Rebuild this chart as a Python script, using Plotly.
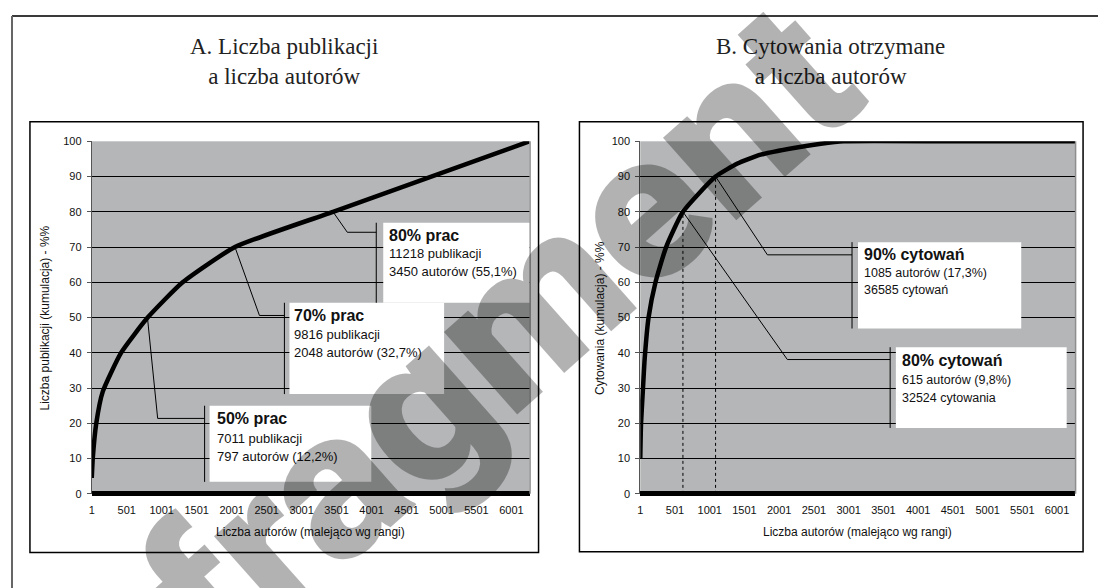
import plotly.graph_objects as go

# page has an 8px body margin, so the figure is drawn 8px in from the top-left
OFF = 8
W, H = 1106 - OFF, 588 - OFF

# ---------------- data ----------------
authors_pub = [1, 15, 65, 158, 419, 800, 1300, 2048, 3450, 6260]
pub_pct = [4.5, 10, 20, 29, 40, 50, 60, 70, 80, 100]

authors_cit = [1, 12, 40, 65, 120, 220, 373, 615, 1085, 1400, 1735, 2212, 2600, 2929, 4500, 6260]
cit_pct = [10, 20, 30, 38.5, 50, 60, 70, 80, 90, 93.7, 96.2, 98.1, 99.3, 100, 100, 100]

x_ticks = [1, 501, 1001, 1501, 2001, 2501, 3001, 3501, 4001, 4501, 5001, 5501, 6001]
y_ticks = [0, 10, 20, 30, 40, 50, 60, 70, 80, 90, 100]
x_max = 6260

title_a = "A. Liczba publikacji<br>a liczba autorów"
title_b = "B. Cytowania otrzymane<br>a liczba autorów"
x_title = "Liczba autorów (malejąco wg rangi)"
y_title_a = "Liczba publikacji (kumulacja) - %%"
y_title_b = "Cytowania (kumulacja) - %%"
watermark = "fragment"

callout_heads_a = ["80% prac", "70% prac", "50% prac"]
callout_l1_a = ["11218 publikacji", "9816 publikacji", "7011 publikacji"]
callout_l2_a = ["3450 autorów (55,1%)", "2048 autorów (32,7%)", "797 autorów (12,2%)"]
callout_px_a = [3450, 2048, 797]
callout_py_a = [80, 70, 50]

callout_heads_b = ["90% cytowań", "80% cytowań"]
callout_l1_b = ["1085 autorów (17,3%)", "615 autorów (9,8%)"]
callout_l2_b = ["36585 cytowań", "32524 cytowania"]
callout_px_b = [1085, 615]
callout_py_b = [90, 80]

# ---------------- layout geometry ----------------
def px(x):
    return (x - OFF) / W

def py(y):
    return 1 - (y - OFF) / H

geo_a = [
    dict(bx0=4168, bx1=x_max, by0=76.9, by1=54.2, brx=4068, ex=3654, ey=74.2, tx=4225, ty=[73.3, 68.1, 63.1]),
    dict(bx0=2827, bx1=5038, by0=54.2, by1=28.3, brx=2755, ex=2398, ey=50.6, tx=2870, ty=[50.6, 45.1, 40.0]),
    dict(bx0=1685, bx1=3997, by0=25.0, by1=3.4, brx=1614, ex=943, ey=21.4, tx=1756, ty=[21.4, 15.8, 10.5]),
]
geo_b = [
    dict(bx0=3135, bx1=5485, by0=71.4, by1=46.9, brx=3049, ex=1831, ey=67.8, tx=3192, ty=[67.8, 62.6, 57.8]),
    dict(bx0=3680, bx1=6139, by0=41.6, by1=18.7, brx=3598, ex=2118, ey=38.1, tx=3741, ty=[37.9, 32.3, 27.2]),
]

SANS = "Liberation Sans, Arial, sans-serif"
SERIF = "Liberation Serif, Times New Roman, serif"
PLOT_BG = "#b4b6b7"

fig = go.Figure()

fig.add_trace(go.Scatter(x=authors_pub, y=pub_pct, mode="lines",
                         line=dict(color="black", width=4.5, shape="spline", smoothing=0.5),
                         xaxis="x", yaxis="y", showlegend=False, hoverinfo="skip"))
fig.add_trace(go.Scatter(x=authors_cit, y=cit_pct, mode="lines",
                         line=dict(color="black", width=4.5, shape="spline", smoothing=0.5),
                         xaxis="x2", yaxis="y2", showlegend=False, hoverinfo="skip"))

xa = dict(range=[1, x_max], tickvals=x_ticks, ticktext=[str(v) for v in x_ticks],
          showgrid=False, zeroline=False, showline=False, ticks="",
          tickfont=dict(family=SANS, size=11, color="#111"), ticklabelstandoff=8)
ya = dict(range=[0, 100], tickvals=y_ticks, showgrid=True, gridcolor="black", gridwidth=1,
          zeroline=True, zerolinecolor="black", zerolinewidth=5,
          showline=True, linecolor="#555", linewidth=1, ticks="outside", ticklen=4,
          tickcolor="#555", tickfont=dict(family=SANS, size=11, color="#111"),
          ticklabelstandoff=3)

fig.update_layout(
    width=W, height=H, margin=dict(l=0, r=0, t=0, b=0),
    paper_bgcolor="white", plot_bgcolor=PLOT_BG,
    xaxis=dict(domain=[px(89), px(528)], anchor="y", **xa),
    yaxis=dict(domain=[py(498), py(138)], anchor="x", **ya),
    xaxis2=dict(domain=[px(639), px(1075)], anchor="y2", **xa),
    yaxis2=dict(domain=[py(498), py(138)], anchor="x2", **ya),
)

shapes = []
shapes.append(dict(type="line", xref="paper", yref="paper", x0=px(9), x1=px(1104), y0=py(10), y1=py(10),
                   line=dict(color="#3a3a3a", width=2), layer="below"))
shapes.append(dict(type="line", xref="paper", yref="paper", x0=px(9), x1=px(9), y0=py(10), y1=py(600),
                   line=dict(color="#666", width=2), layer="below"))
shapes.append(dict(type="line", xref="paper", yref="paper", x0=px(1104), x1=px(1104), y0=py(10), y1=py(600),
                   line=dict(color="#3a3a3a", width=2), layer="below"))
shapes.append(dict(type="rect", xref="paper", yref="paper", x0=px(27), x1=px(537), y0=py(118), y1=py(558),
                   line=dict(color="black", width=1.5), layer="below"))
shapes.append(dict(type="rect", xref="paper", yref="paper", x0=px(578), x1=px(1083), y0=py(118), y1=py(557),
                   line=dict(color="black", width=1.5), layer="below"))
for xe in (528.5, 1075.5):
    shapes.append(dict(type="line", xref="paper", yref="paper", x0=px(xe), x1=px(xe), y0=py(138), y1=py(498),
                       line=dict(color="#8e8e8e", width=1.5), layer="above"))

annotations = []

def add_callouts(xr, yr, heads, l1, l2, pxs, pys, geos, head_size, body_size):
    for g in geos:
        shapes.append(dict(type="rect", xref=xr, yref=yr, x0=g["bx0"], x1=g["bx1"], y0=g["by1"], y1=g["by0"],
                           line=dict(width=0), fillcolor="white", layer="above"))
    for i, g in enumerate(geos):
        shapes.append(dict(type="line", xref=xr, yref=yr, x0=g["brx"], x1=g["brx"], y0=g["by1"], y1=g["by0"],
                           line=dict(color="black", width=1), layer="above"))
        shapes.append(dict(type="path", xref=xr, yref=yr,
                           path=f"M {pxs[i]},{pys[i]} L {g['ex']},{g['ey']} L {g['brx']},{g['ey']}",
                           line=dict(color="black", width=1), layer="above"))
        texts = [(f"<b>{heads[i]}</b>", head_size), (l1[i], body_size), (l2[i], body_size)]
        for (t, s), yy in zip(texts, g["ty"]):
            annotations.append(dict(xref=xr, yref=yr, x=g["tx"], y=yy, text=t, showarrow=False,
                                    xanchor="left", yanchor="middle",
                                    font=dict(family=SANS, size=s, color="#111")))

add_callouts("x", "y", callout_heads_a, callout_l1_a, callout_l2_a, callout_px_a, callout_py_a, geo_a, 16, 13)
add_callouts("x2", "y2", callout_heads_b, callout_l1_b, callout_l2_b, callout_px_b, callout_py_b, geo_b, 16, 12.5)

for xv, yv in zip(callout_px_b, callout_py_b):
    shapes.append(dict(type="line", xref="x2", yref="y2", x0=xv, x1=xv, y0=0, y1=yv,
                       line=dict(color="black", width=1, dash="dot"), layer="above"))

annotations.append(dict(xref="paper", yref="paper", x=px(282), y=py(57), text=title_a, showarrow=False,
                        xanchor="center", yanchor="middle", align="center",
                        font=dict(family=SERIF, size=23, color="#222")))
annotations.append(dict(xref="paper", yref="paper", x=px(830), y=py(57), text=title_b, showarrow=False,
                        xanchor="center", yanchor="middle", align="center",
                        font=dict(family=SERIF, size=23, color="#222")))
for cx in (308, 857):
    annotations.append(dict(xref="paper", yref="paper", x=px(cx), y=py(537), text=x_title, showarrow=False,
                            xanchor="center", yanchor="middle", font=dict(family=SANS, size=12, color="#111")))
annotations.append(dict(xref="paper", yref="paper", x=px(42), y=py(318), text=y_title_a, showarrow=False,
                        textangle=-90, xanchor="center", yanchor="middle",
                        font=dict(family=SANS, size=12, color="#111")))
annotations.append(dict(xref="paper", yref="paper", x=px(598), y=py(318), text=y_title_b, showarrow=False,
                        textangle=-90, xanchor="center", yanchor="middle",
                        font=dict(family=SANS, size=12, color="#111")))

# watermark
annotations.append(dict(xref="paper", yref="paper", x=px(498), y=py(335), text=watermark,
                        showarrow=False, textangle=-41.6, xanchor="center", yanchor="middle",
                        font=dict(family="Roboto, DejaVu Sans, sans-serif", size=209, weight=900,
                                  color="rgba(0,0,0,0.3)")))

fig.update_layout(shapes=shapes, annotations=annotations)
fig.write_html("out.html")
